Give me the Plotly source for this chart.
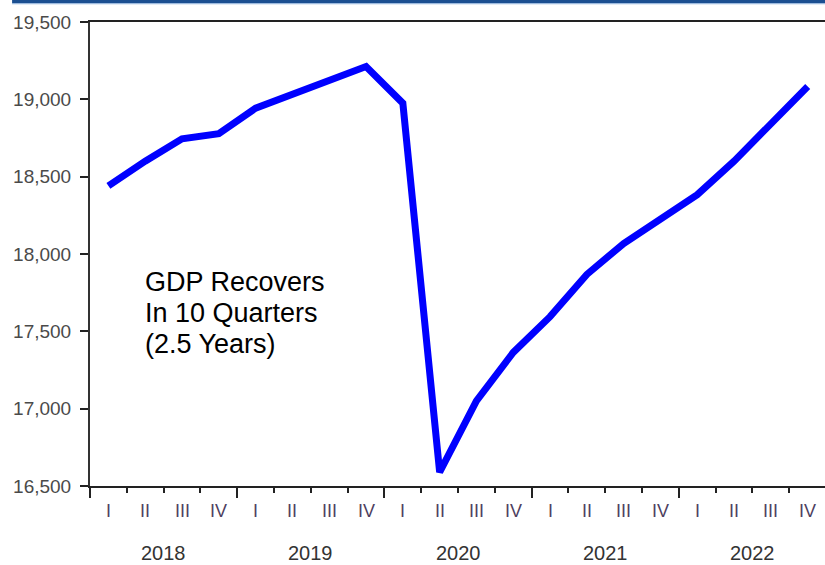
import plotly.graph_objects as go

# real GDP, quarterly, 2018Q1 .. 2022Q4
years = ["2018", "2019", "2020", "2021", "2022"]
quarters = ["I", "II", "III", "IV"]
gdp = [18440, 18600, 18745, 18778, 18943, 19030, 19115, 19212,
       18975, 16590, 17050, 17364, 17595, 17868, 18068, 18223,
       18384, 18600, 18846, 19083]
y_ticks = [16500, 17000, 17500, 18000, 18500, 19000, 19500]
note_lines = ["GDP Recovers", "In 10 Quarters", "(2.5 Years)"]

x = list(range(len(gdp)))
font = "Arial, 'Liberation Sans', sans-serif"

fig = go.Figure()
fig.add_trace(go.Scatter(x=x, y=gdp, mode="lines",
                         line=dict(color="#0000ff", width=7),
                         hoverinfo="skip", showlegend=False))

annots = []
for i in x:
    annots.append(dict(x=i, y=-0.054, xref="x", yref="paper",
                       yanchor="middle", text=quarters[i % 4],
                       showarrow=False,
                       font=dict(family=font, size=18, color="#4d4060")))
for k, yr in enumerate(years):
    annots.append(dict(x=k * 4 + 1.5, y=-0.144, xref="x", yref="paper",
                       yanchor="middle", text=yr, showarrow=False,
                       font=dict(family=font, size=20, color="#333333")))
for k, line in enumerate(note_lines):
    annots.append(dict(x=0.0735, y=(486 - 282 - 31 * k) / 464,
                       xref="paper", yref="paper", xanchor="left",
                       yanchor="middle", borderpad=0,
                       text=line, showarrow=False,
                       font=dict(family=font, size=27, color="#000000")))

fig.update_layout(
    width=825, height=565,
    margin=dict(l=90, r=0, t=22, b=79),
    plot_bgcolor="white", paper_bgcolor="white",
    annotations=annots,
    shapes=[
        dict(type="rect", xref="paper", yref="paper",
             x0=-0.106, x1=1.0, y0=1.0404, y1=1.0474,
             fillcolor="#1b4f91", line_width=0, layer="above"),
        dict(type="rect", xref="paper", yref="paper",
             x0=-0.106, x1=1.0, y0=1.0383, y1=1.0404,
             fillcolor="#8fb2dc", line_width=0, layer="above"),
    ],
)

fig.update_xaxes(
    range=[-0.5, 19.47], showgrid=False, zeroline=False,
    showline=True, linecolor="#222222", linewidth=2, mirror=True,
    tickvals=[-0.5, 3.5, 7.5, 11.5, 15.5], ticks="outside", ticklen=10,
    tickwidth=2, tickcolor="#222222", showticklabels=False,
    minor=dict(tick0=-0.5, dtick=1, ticks="outside", ticklen=5,
               tickwidth=2, tickcolor="#222222"),
)
fig.update_yaxes(
    range=[16500, 19500], showgrid=False, zeroline=False,
    showline=True, linecolor="#333333", linewidth=2,
    tickvals=y_ticks, tickformat=",", ticks="outside", ticklen=8,
    tickwidth=2, tickcolor="#222222", ticklabelstandoff=5,
    tickfont=dict(family=font, size=19, color="#4a4a4a"),
)

# page body has a default 8px margin; drop it so the chart sits at 0,0
fig.write_html("out.html", config={"displayModeBar": False},
               post_script="document.body.style.margin='0px';")
